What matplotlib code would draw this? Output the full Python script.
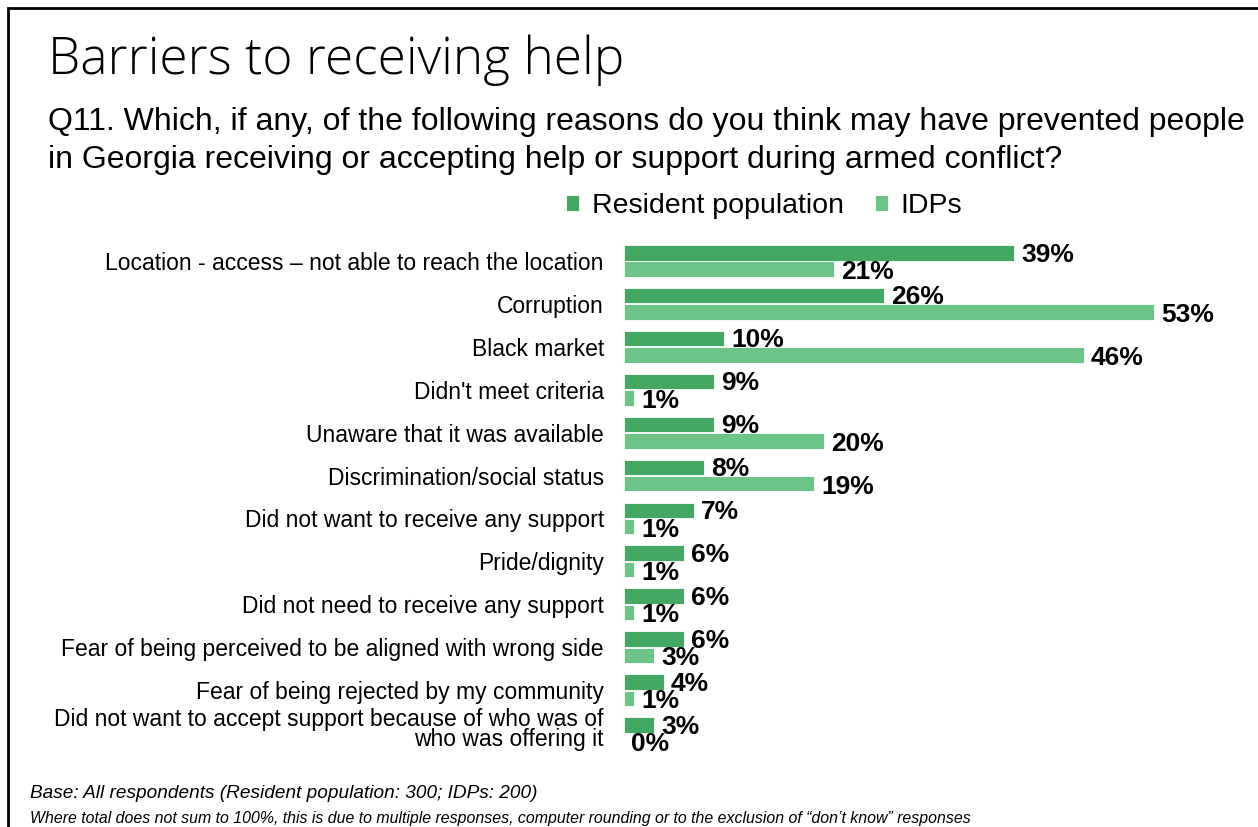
import numpy as np
import matplotlib.pyplot as plt
from matplotlib.patches import Rectangle
from matplotlib.transforms import ScaledTranslation

plt.rcParams['font.family'] = ['Liberation Sans', 'DejaVu Sans']

reasons = [
    "Location - access \u2013 not able to reach the location",
    "Corruption",
    "Black market",
    "Didn't meet criteria",
    "Unaware that it was available",
    "Discrimination/social status",
    "Did not want to receive any support",
    "Pride/dignity",
    "Did not need to receive any support",
    "Fear of being perceived to be aligned with wrong side",
    "Fear of being rejected by my community",
    "Did not want to accept support because of who was of\nwho was offering it",
]
resident = [39, 26, 10, 9, 9, 8, 7, 6, 6, 6, 4, 3]
idps = [21, 53, 46, 1, 20, 19, 1, 1, 1, 3, 1, 0]

dark_green = '#44a862'
light_green = '#6cc586'

W, H = 1258, 827
fig = plt.figure(figsize=(W / 100, H / 100), dpi=100)

# frame around the slide
fig.patches.append(Rectangle((8 / W, -0.05), 1.2, 1 - 8 / H + 0.05,
                             transform=fig.transFigure, fill=False,
                             edgecolor='black', linewidth=2))

fig.text(48 / W, 1 - 60 / H, "Barriers to receiving help", fontsize=37,
         family=['Open Sans', 'DejaVu Sans'], fontweight='light', va='center')
fig.text(48 / W, 1 - 141 / H,
         "Q11. Which, if any, of the following reasons do you think may have prevented people\n"
         "in Georgia receiving or accepting help or support during armed conflict?",
         fontsize=23, va='center', linespacing=1.33)

# bars: axes spans x 624..1224 px (0..60%), rows centred 261..733 px
ax_left, ax_right = 624, 1224
ax_top, ax_bottom = 239.5, 754.5
ax = fig.add_axes([ax_left / W, 1 - ax_bottom / H,
                   (ax_right - ax_left) / W, (ax_bottom - ax_top) / H])

y = np.arange(len(reasons))
h = 0.36
ax.barh(y - 0.19, resident, height=h, color=dark_green, edgecolor='white',
        linewidth=0.6, label='Resident population')
ax.barh(y + 0.19, idps, height=h, color=light_green, edgecolor='white',
        linewidth=0.6, label='IDPs')

for yi, r, d in zip(y, resident, idps):
    ax.text(r + 0.7, yi - 0.15, f"{r}%", fontsize=19, fontweight='bold',
            va='center', ha='left')
    ax.text(d + 0.7, yi + 0.26, f"{d}%", fontsize=19, fontweight='bold',
            va='center', ha='left')

ax.set_xlim(0, 60)
ax.set_ylim(len(reasons) - 0.5, -0.5)
ax.set_yticks(y)
ax.set_yticklabels(reasons, fontsize=16.5, linespacing=0.86)
ax.tick_params(axis='y', length=0, pad=14.5)
ax.set_xticks([])
for s in ax.spines.values():
    s.set_visible(False)

# two-line label sits a little higher than its row
last = ax.get_yticklabels()[-1]
last.set_transform(last.get_transform() + ScaledTranslation(0, 0.05, fig.dpi_scale_trans))

leg = fig.legend(loc='center', bbox_to_anchor=(764 / W, 1 - 206 / H), ncol=2,
                 frameon=False, fontsize=20.5, handlelength=0.45,
                 handleheight=0.45, handletextpad=0.45, columnspacing=1.1)

fig.text(30 / W, 1 - 793 / H,
         "Base: All respondents (Resident population: 300; IDPs: 200)",
         fontsize=13.7, style='italic', va='center')
fig.text(30 / W, 1 - 818 / H,
         "Where total does not sum to 100%, this is due to multiple responses, "
         "computer rounding or to the exclusion of \u201cdon\u2019t know\u201d responses",
         fontsize=11.4, style='italic', va='center')

fig.savefig('out.png', dpi=100)
